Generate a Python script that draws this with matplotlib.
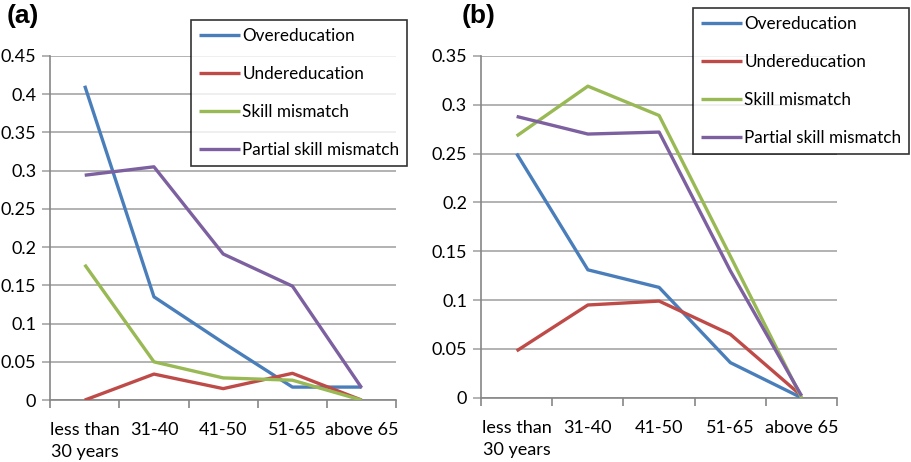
import numpy as np
from matplotlib import pyplot as plt

plt.rcParams['font.family'] = ['Lato', 'DejaVu Sans']

categories = ['less than\n30 years', '31-40', '41-50', '51-65', 'above 65']
series_names = ['Overeducation', 'Undereducation', 'Skill mismatch', 'Partial skill mismatch']
colors = ['#4A7EBB', '#BE4B48', '#98B954', '#7D60A0']

a_over = [0.411, 0.135, 0.075, 0.017, 0.017]
a_under = [0.0, 0.034, 0.015, 0.035, 0.0]
a_skill = [0.177, 0.050, 0.029, 0.026, 0.0]
a_partial = [0.294, 0.305, 0.191, 0.149, 0.016]

b_over = [0.250, 0.131, 0.113, 0.036, 0.0]
b_under = [0.048, 0.095, 0.099, 0.065, 0.002]
b_skill = [0.268, 0.319, 0.289, 0.145, 0.0]
b_partial = [0.288, 0.270, 0.272, 0.130, 0.002]


def draw(ax, data, ymax, step, legend_anchor, fig):
    x = np.arange(len(categories))
    lines = []
    for vals, name, c in zip(data, series_names, colors):
        l, = ax.plot(x, vals, color=c, lw=2.4, label=name, solid_capstyle='butt', zorder=3)
        lines.append(l)
    ax.set_xlim(-0.5, len(categories) - 0.5)
    ax.set_ylim(0, ymax)
    ticks = np.arange(0, ymax + step / 2, step)
    ax.set_yticks(ticks)
    ax.set_yticklabels(['0' if t == 0 else ('%g' % round(t, 2)) for t in ticks])
    ax.yaxis.grid(True, color='#A6A6A6', lw=1.2)
    ax.set_axisbelow(True)
    ax.set_xticks(np.arange(-0.5, len(categories)), minor=False)
    ax.set_xticklabels([])
    ax.set_xticks(x, minor=True)
    ax.set_xticklabels(categories, minor=True)
    ax.tick_params(axis='x', which='major', length=6, width=1.2, color='#868686', direction='out')
    ax.tick_params(axis='x', which='minor', length=0, pad=16, labelsize=13)
    ax.tick_params(axis='y', length=6, width=1.2, color='#A6A6A6', labelsize=13, pad=4)
    for s in ['top', 'right']:
        ax.spines[s].set_visible(False)
    for s in ['left', 'bottom']:
        ax.spines[s].set_color('#868686')
        ax.spines[s].set_linewidth(1.2)
    leg = fig.legend(handles=lines, loc='upper left', bbox_to_anchor=legend_anchor,
                     frameon=True, fancybox=False, edgecolor='black', fontsize=12.3,
                     handlelength=2.4, handletextpad=0.15, labelspacing=1.3,
                     borderpad=0.45, borderaxespad=0)
    leg.get_frame().set_linewidth(1.2)
    for lab in ax.get_xticklabels(minor=True):
        lab.set_linespacing(1.45)


fig = plt.figure(figsize=(9.11, 4.62), dpi=100)
ax1 = fig.add_axes([0.055, 0.134, 0.380, 0.745])
ax2 = fig.add_axes([0.528, 0.139, 0.391, 0.740])

draw(ax1, [a_over, a_under, a_skill, a_partial], 0.45, 0.05, (191 / 911, 1 - 20 / 462), fig)
draw(ax2, [b_over, b_under, b_skill, b_partial], 0.35, 0.05, (693 / 911, 1 - 8 / 462), fig)

fig.text(7 / 911, 1 - 4 / 462, '(a)', fontsize=19, fontweight='bold', family='Liberation Sans', va='top')
fig.text(462 / 911, 1 - 4 / 462, '(b)', fontsize=19, fontweight='bold', family='Liberation Sans', va='top')

fig.savefig('out.png', dpi=100)
